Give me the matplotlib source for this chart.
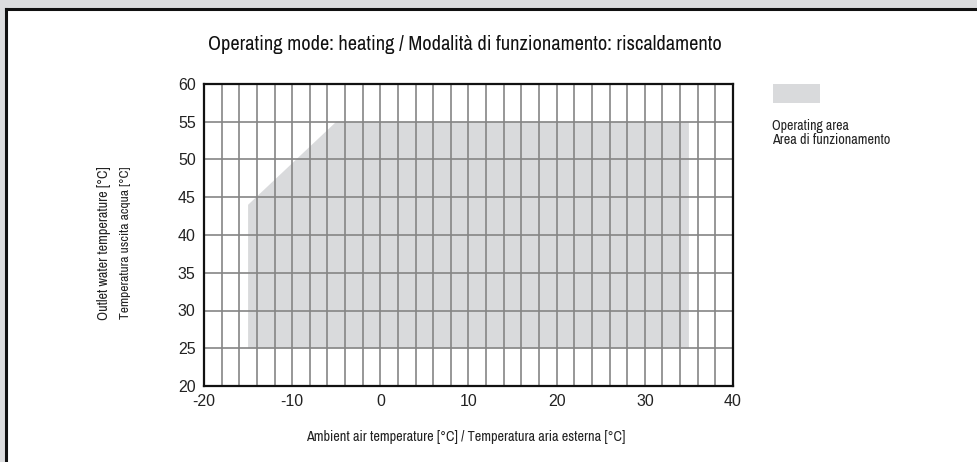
import matplotlib
matplotlib.use("Agg")
import matplotlib.pyplot as plt
from matplotlib.patches import Rectangle
from matplotlib import font_manager

plt.rcParams["axes.unicode_minus"] = False

# Data
area_x = [-15, -15, -5, 35, 35]
area_y = [25, 44, 55, 55, 25]
x_ticks = [-20, -10, 0, 10, 20, 30, 40]
y_ticks = [20, 25, 30, 35, 40, 45, 50, 55, 60]
x_grid = list(range(-20, 41, 2))

title = "Operating mode: heating / Modalità di funzionamento: riscaldamento"
xlabel = "Ambient air temperature [°C] / Temperatura aria esterna [°C]"
ylabel1 = "Outlet water temperature [°C]"
ylabel2 = "Temperatura uscita acqua [°C]"
legend1 = "Operating area"
legend2 = "Area di funzionamento"

# choose a condensed font if one is installed
fonts = font_manager.fontManager.ttflist
narrow = None
stretch = "normal"
for f in fonts:
    if "Narrow" in f.name or "Condensed" in f.name:
        narrow = f.name
        break
if narrow is None:
    for f in fonts:
        if f.name == "DejaVu Sans" and str(f.stretch) in ("condensed", "semi-condensed", "75", "87"):
            narrow = "DejaVu Sans"
            stretch = "condensed"
            break
if narrow is None:
    narrow = "Liberation Sans"
narrow_fam = [narrow, "DejaVu Sans"]

W, H = 978, 462
fig = plt.figure(figsize=(W / 100, H / 100), dpi=100)
fig.patch.set_facecolor("#dcdddf")

# white panel with dark border
panel = Rectangle((6.5 / W, 0), 1 - 6.5 / W, 1 - 8.5 / H, transform=fig.transFigure,
                  facecolor="white", edgecolor="none", zorder=-5)
fig.patches.append(panel)
fig.add_artist(plt.Line2D([6.5 / W, 1], [1 - 8.5 / H, 1 - 8.5 / H], transform=fig.transFigure,
                          color="#111111", lw=2.2, zorder=-4))
fig.add_artist(plt.Line2D([6.5 / W, 6.5 / W], [0, 1 - 8.5 / H], transform=fig.transFigure,
                          color="#111111", lw=2.2, zorder=-4))

ax_l, ax_r, ax_t, ax_b = 204, 733, 84, 386
ax = fig.add_axes([ax_l / W, 1 - ax_b / H, (ax_r - ax_l) / W, (ax_b - ax_t) / H])
ax.set_facecolor("white")
ax.fill(area_x, area_y, color="#d9dadc", lw=0, zorder=1)
for x in x_grid:
    ax.axvline(x, color="#858585", lw=1.2, zorder=2)
for y in y_ticks:
    ax.axhline(y, color="#858585", lw=1.2, zorder=2)
ax.set_xlim(-20, 40)
ax.set_ylim(20, 60)
ax.set_xticks(x_ticks)
ax.set_yticks(y_ticks)
ax.tick_params(length=0, labelsize=11.5, pad=6, colors="#222222")
for lab in ax.get_xticklabels() + ax.get_yticklabels():
    lab.set_family("Liberation Sans")
for s in ax.spines.values():
    s.set_color("#111111")
    s.set_linewidth(1.6)
    s.set_zorder(3)

renderer = fig.canvas.get_renderer()


def fit_text(x, y, s, width_px, size0, **kw):
    t = fig.text(x / W, 1 - y / H, s, fontsize=size0, family=narrow_fam,
                 fontstretch=stretch, **kw)
    bb = t.get_window_extent(renderer)
    rot = kw.get("rotation", 0)
    cur = bb.height if rot == 90 else bb.width
    t.set_fontsize(size0 * width_px / cur)
    return t


fit_text(465, 45, title, 514, 13, ha="center", va="center", color="#111111")
fit_text(466, 437, xlabel, 318, 10, ha="center", va="center", color="#222222")
fit_text(104, 243, ylabel1, 153, 10, ha="center", va="center", rotation=90, color="#222222")
fit_text(126, 243, ylabel2, 152, 10, ha="center", va="center", rotation=90, color="#222222")

leg = Rectangle((773 / W, 1 - 103 / H), 47 / W, 19 / H, transform=fig.transFigure,
                facecolor="#d9dadc", edgecolor="none")
fig.patches.append(leg)
fit_text(772, 126, legend1, 76, 9, ha="left", va="center", color="#222222")
fit_text(772, 140, legend2, 118, 9, ha="left", va="center", color="#222222")

fig.savefig("out.png", dpi=100, facecolor=fig.get_facecolor())
